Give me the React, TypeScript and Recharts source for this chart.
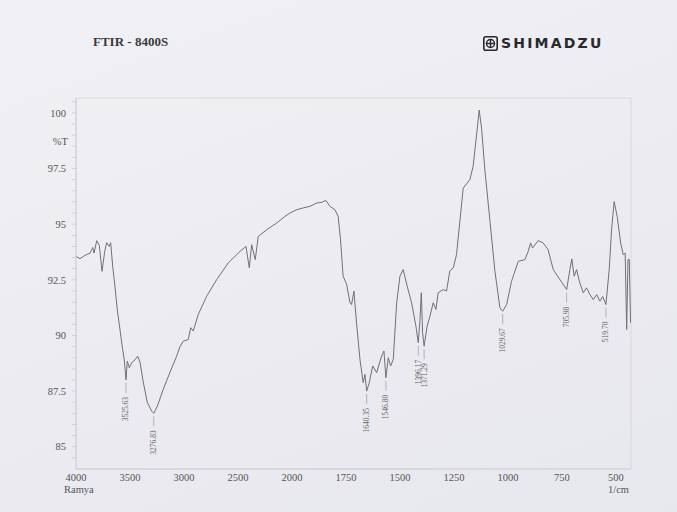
import React from "react";
import {
  ComposedChart,
  Line,
  Scatter,
  XAxis,
  YAxis,
  ReferenceArea,
} from "recharts";

// wavenumber (1/cm) and %T
const wavenumbers = [
  4000, 3963, 3917, 3870, 3845, 3833, 3808, 3784, 3759, 3734, 3716, 3692, 3679,
  3660, 3639, 3618, 3593, 3568, 3553, 3537, 3525, 3506, 3484, 3454, 3429, 3407,
  3377, 3340, 3299, 3280, 3246, 3192, 3130, 3068, 3037, 3007, 2960, 2938, 2914,
  2868, 2790, 2697, 2590, 2481, 2426, 2395, 2373, 2340, 2312, 2234, 2142, 2065,
  2019, 1978, 1948, 1917, 1886, 1862, 1843, 1824, 1801, 1786, 1775, 1763, 1747,
  1731, 1724, 1713, 1701, 1685, 1670, 1662, 1654, 1642, 1626, 1608, 1585, 1574,
  1565, 1554, 1543, 1531, 1515, 1500, 1485, 1466, 1446, 1426, 1415, 1407, 1401,
  1395, 1388, 1374, 1361, 1346, 1333, 1323, 1300, 1284, 1269, 1253, 1238, 1207,
  1176, 1161, 1145, 1133, 1122, 1106, 1083, 1060, 1037, 1024, 1006, 983, 952,
  921, 906, 895, 886, 860, 837, 814, 790, 759, 728, 713, 704, 693, 682, 667,
  651, 636, 620, 605, 589, 574, 561, 546, 531, 520, 508, 494, 478, 466, 457,
  450, 444, 438, 432,
];

const transmittance = [
  93.55, 93.45, 93.6, 93.7, 93.95, 93.7, 94.26, 94.05, 92.88, 93.78, 94.17, 94.0,
  94.17, 93.1, 92.2, 91.17, 90.27, 89.37, 88.9, 88.0, 88.85, 88.55, 88.78, 88.9,
  89.07, 88.8, 87.9, 87.0, 86.6, 86.5, 86.83, 87.58, 88.34, 89.07, 89.5, 89.74,
  89.82, 90.35, 90.2, 90.94, 91.76, 92.51, 93.26, 93.78, 94.0, 93.04, 94.08,
  93.41, 94.45, 94.75, 95.05, 95.35, 95.5, 95.65, 95.73, 95.8, 95.95, 95.98,
  96.07, 95.8, 95.65, 95.35, 94.3, 92.66, 92.3, 91.47, 91.39, 91.99, 90.57,
  88.92, 87.88, 88.25, 87.5, 87.88, 88.63, 88.33, 89.07, 89.3, 88.1, 89.0,
  88.63, 88.92, 91.47, 92.66, 92.96, 92.2, 91.47, 90.42, 89.67, 90.72, 91.92,
  90.12, 89.52, 90.42, 90.87, 91.47, 91.17, 91.92, 92.06, 92.0, 92.9, 93.04,
  93.63, 96.62, 97.0, 97.6, 99.01, 100.13, 99.31, 97.37, 95.13, 92.88, 91.24,
  91.09, 91.39, 92.44, 93.33, 93.41, 93.78, 94.16, 93.93, 94.26, 94.16, 93.86,
  92.96, 92.51, 92.06, 92.96, 93.44, 92.66, 92.96, 92.36, 91.92, 92.14, 91.84,
  91.61, 91.84, 91.54, 91.75, 91.39, 92.96, 94.75, 96.02, 95.35, 94.16, 93.63,
  93.7, 90.27, 93.41, 93.41, 90.57,
];

const peakLabels = [
  "3525.63", "3276.83", "1640.35", "1546.80", "1396.17", "1371.29", "1029.67",
  "705.98", "519.70",
];
const peakWavenumbers = [3537, 3280, 1654, 1565, 1415, 1388, 1024, 728, 546];
const peakTransmittance = [88.0, 86.5, 87.5, 88.1, 89.67, 89.52, 91.09, 92.06, 91.39];

const xTickLabels = [4000, 3500, 3000, 2500, 2000, 1750, 1500, 1250, 1000, 750, 500];
const yTicks = [85, 87.5, 90, 92.5, 95, 97.5, 100];

// Shimadzu scale: 500 per division above 2000, 250 per division below
const toPos = (w: number) => (w >= 2000 ? (4000 - w) / 500 : 4 + (2000 - w) / 250);

const spectrum = wavenumbers.map((w, i) => ({ pos: toPos(w), t: transmittance[i] }));
const peaks = peakWavenumbers.map((w, i) => ({
  pos: toPos(w),
  t: peakTransmittance[i],
  label: peakLabels[i],
}));

const minorTicks: number[] = [];
for (let v = 84.5; v <= 100.5; v += 0.5) minorTicks.push(v);

const serif = "'Liberation Serif', 'DejaVu Serif', serif";

const PeakMark = (props: any) => {
  const { cx, cy, payload } = props;
  if (cx == null || cy == null) return null;
  const ty = cy + 17;
  return (
    <g>
      <line x1={cx} x2={cx} y1={cy + 3} y2={cy + 13} stroke="#9a9aa4" strokeWidth={0.7} />
      <text
        x={cx}
        y={ty}
        dy="0.33em"
        transform={`rotate(-90 ${cx} ${ty})`}
        textAnchor="end"
        fontSize={7.5}
        fontFamily={serif}
        fill="#666"
      >
        {payload.label}
      </text>
    </g>
  );
};

export default function App() {
  return (
    <div
      style={{
        position: "absolute",
        left: 0,
        top: 0,
        width: 677,
        height: 512,
        background: "linear-gradient(160deg, #f1f1f5 0%, #ebebf1 55%, #e7e7ee 100%)",
        overflow: "hidden",
      }}
    >
      <div
        style={{
          position: "absolute",
          left: 93,
          top: 34,
          fontFamily: serif,
          fontWeight: "bold",
          fontSize: 13,
          color: "#3a3a40",
        }}
      >
        FTIR - 8400S
      </div>
      <div style={{ position: "absolute", left: 483, top: 35, display: "flex", alignItems: "center" }}>
        <svg width={15} height={15} viewBox="0 0 15 15">
          <rect x={0.8} y={0.8} width={13.4} height={13.4} rx={2} fill="none" stroke="#2a2a2e" strokeWidth={1.6} />
          <circle cx={7.5} cy={7.5} r={4} fill="none" stroke="#2a2a2e" strokeWidth={1.5} />
          <line x1={7.5} y1={3} x2={7.5} y2={12} stroke="#2a2a2e" strokeWidth={1.4} />
          <line x1={3} y1={7.5} x2={12} y2={7.5} stroke="#2a2a2e" strokeWidth={1.4} />
        </svg>
        <span
          style={{
            marginLeft: 3,
            fontFamily: "'DejaVu Sans', sans-serif",
            fontWeight: "bold",
            fontSize: 14,
            letterSpacing: 2.2,
            color: "#2a2a2e",
          }}
        >
          SHIMADZU
        </span>
      </div>
      <div
        style={{
          position: "absolute",
          left: 46,
          top: 136,
          width: 22,
          textAlign: "right",
          fontFamily: serif,
          fontSize: 10.5,
          color: "#555",
        }}
      >
        %T
      </div>
      <div style={{ position: "absolute", left: 64, top: 484, fontFamily: serif, fontSize: 10.5, color: "#555" }}>
        Ramya
      </div>
      <div style={{ position: "absolute", left: 608, top: 484, fontFamily: serif, fontSize: 10.5, color: "#555" }}>
        1/cm
      </div>

      <ComposedChart
        width={677}
        height={512}
        margin={{ top: 98, right: 46, bottom: 13, left: 36 }}
        style={{ position: "absolute", left: 0, top: 0 }}
      >
        <XAxis
          dataKey="pos"
          type="number"
          domain={[0, 10.28]}
          allowDataOverflow
          ticks={xTickLabels.map(toPos)}
          tickFormatter={(p: number) => {
            const idx = xTickLabels.findIndex((w) => Math.abs(toPos(w) - p) < 1e-6);
            return idx >= 0 ? String(xTickLabels[idx]) : "";
          }}
          height={30}
          tickLine={false}
          tickSize={0}
          tickMargin={5}
          axisLine={{ stroke: "#cfcfd8", strokeWidth: 1 }}
          tick={{ fontSize: 10.5, fontFamily: serif, fill: "#555" }}
          interval={0}
        />
        <YAxis
          type="number"
          domain={[84, 100.67]}
          allowDataOverflow
          ticks={minorTicks}
          interval={0}
          tickFormatter={(v: number) =>
            yTicks.some((t) => Math.abs(t - v) < 1e-6) ? String(v) : ""
          }
          width={40}
          tickSize={4}
          tickMargin={6}
          tickLine={{ stroke: "#d0d0da" }}
          axisLine={{ stroke: "#cfcfd8", strokeWidth: 1 }}
          tick={{ fontSize: 10.5, fontFamily: serif, fill: "#555" }}
        />
        <ReferenceArea
          x1={0}
          x2={10.28}
          y1={84}
          y2={100.67}
          fill="none"
          stroke="#dcdad2"
          strokeWidth={1}
          ifOverflow="visible"
        />
        <Line
          data={spectrum}
          dataKey="t"
          type="linear"
          stroke="#707078"
          strokeWidth={1}
          dot={false}
          isAnimationActive={false}
        />
        <Scatter data={peaks} dataKey="t" shape={PeakMark} isAnimationActive={false} />
      </ComposedChart>
    </div>
  );
}
